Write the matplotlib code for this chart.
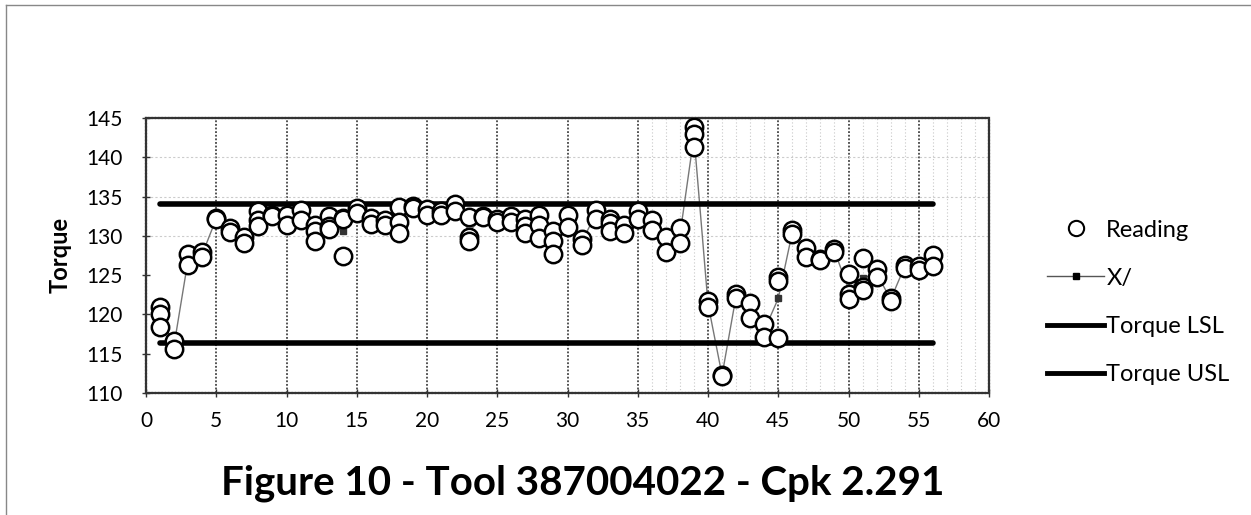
import numpy as np
import matplotlib
matplotlib.use("Agg")
import matplotlib.pyplot as plt
from matplotlib.lines import Line2D

plt.rcParams['font.family'] = ['Lato', 'DejaVu Sans']

# torque readings per subgroup
subgroup = list(range(1, 57))
readings = [
    [121.0, 120.0, 118.4], [116.6, 115.6], [127.7, 126.3], [128.0, 127.3],
    [132.3, 132.1], [131.0, 130.5], [129.9, 129.1], [133.1, 132.0, 131.2],
    [132.6, 132.5], [132.6, 131.4], [133.3, 132.0], [131.4, 130.6, 129.3],
    [132.5, 131.2, 130.9], [132.3, 132.2, 127.4], [133.5, 132.9], [132.3, 131.5],
    [132.0, 131.4], [133.7, 131.8, 130.4], [133.8, 133.6], [133.4, 132.6],
    [133.2, 132.6], [134.1, 133.1], [132.4, 129.9, 129.4], [132.5, 132.4],
    [132.1, 131.7], [132.5, 131.7], [132.1, 131.2, 130.4], [132.6, 131.4, 129.7],
    [130.6, 129.3, 127.7], [132.6, 131.1], [129.6, 128.8], [133.3, 132.1],
    [132.1, 131.6, 130.6], [131.4, 130.4], [133.1, 132.1], [132.0, 130.8],
    [129.9, 128.0], [131.0, 129.1], [143.9, 142.9, 141.3], [121.7, 121.0],
    [112.3, 112.2], [122.6, 122.1], [121.5, 119.6], [118.8, 117.1],
    [124.8, 124.3, 117.0], [130.7, 130.2], [128.4, 127.3], [127.1, 126.9],
    [128.3, 127.9], [125.1, 122.6, 122.0], [127.2, 123.5, 123.1], [125.8, 124.7],
    [122.1, 121.7], [126.3, 125.9], [126.1, 125.6], [127.6, 126.2],
]
torque_lsl = 116.3
torque_usl = 134.0

x_bar = [np.mean(r) for r in readings]
pts_x = [s for s, r in zip(subgroup, readings) for _ in r]
pts_y = [v for r in readings for v in r]

fig = plt.figure(figsize=(12.51, 5.15), dpi=100)
ax = fig.add_axes([146 / 1251, 0.2369, (989 - 146) / 1251, 0.534])

# grid
for xv in range(5, 60, 5):
    ax.axvline(xv, color='#444444', lw=1.3, ls=(0, (1, 1)), zorder=1)
for xv in range(36, 60):
    if xv % 5:
        ax.axvline(xv, color='#c8c8c8', lw=0.8, ls=(0, (1, 2)), zorder=1)
for yv in (130, 135, 140):
    ax.axhline(yv, color='#cccccc', lw=0.8, ls=(0, (2, 2)), zorder=1)

ax.plot(subgroup, x_bar, color='#777777', lw=1.0, marker='s', ms=4,
        mfc='#333333', mec='#333333', zorder=2)
ax.plot(pts_x, pts_y, ls='none', marker='o', ms=12.5, mfc='white',
        mec='black', mew=1.8, zorder=3)
ax.plot([subgroup[0], subgroup[-1]], [torque_lsl, torque_lsl],
        color='black', lw=4, solid_capstyle='round', zorder=2.5)
ax.plot([subgroup[0], subgroup[-1]], [torque_usl, torque_usl],
        color='black', lw=4, solid_capstyle='round', zorder=2.5)

ax.set_xlim(0, 60)
ax.set_ylim(110, 145)
ax.set_xticks(range(0, 61, 5))
ax.set_yticks(range(110, 146, 5))
ax.tick_params(labelsize=15, direction='inout', length=6, width=1,
               color='#333333')
ax.tick_params(axis='y', pad=14)
ax.tick_params(axis='x', pad=10)
for sp in ax.spines.values():
    sp.set_color('#333333')
    sp.set_linewidth(1.6)
    sp.set_linestyle((0, (1, 0.5)))

fig.text(0.048, 0.505, 'Torque', rotation=90, ha='center', va='center',
         fontsize=17, fontweight='bold')
fig.text(0.466, 0.062, 'Figure 10 - Tool 387004022 - Cpk 2.291',
         ha='center', va='center', fontsize=29, fontweight='bold')

handles = [
    Line2D([], [], ls='none', marker='o', ms=11, mfc='white', mec='black', mew=1.5),
    Line2D([], [], color='#555555', lw=1, marker='s', ms=4, mfc='black', mec='black'),
    Line2D([], [], color='black', lw=3.5),
    Line2D([], [], color='black', lw=3.5),
]
fig.legend(handles, ['Reading', 'X/', 'Torque LSL', 'Torque USL'],
           loc='center left', bbox_to_anchor=(1026 / 1251, 0.413),
           frameon=False, fontsize=17, labelspacing=1.15,
           handlelength=2.4, handletextpad=0.1)

# outer chart frame
fig.add_artist(Line2D([0.005, 0.005], [0.0, 0.99], color='#888888', lw=1,
                      transform=fig.transFigure))
fig.add_artist(Line2D([0.005, 1.0], [0.99, 0.99], color='#888888', lw=1,
                      transform=fig.transFigure))

fig.savefig('out.png', dpi=100)
